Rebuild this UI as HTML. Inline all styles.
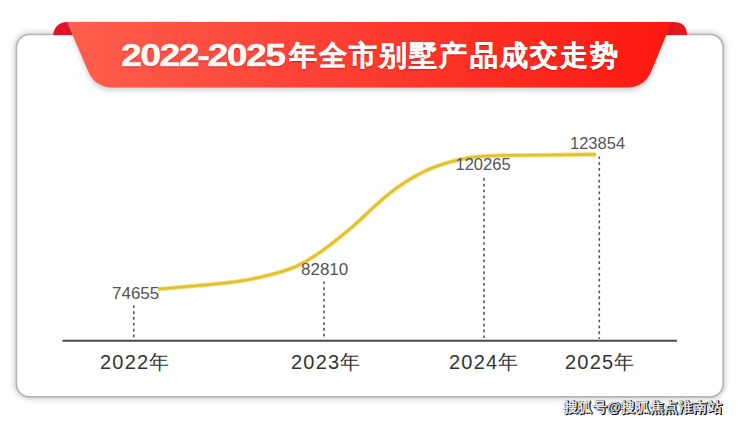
<!DOCTYPE html>
<html><head><meta charset="utf-8">
<style>
html,body{margin:0;padding:0;background:#fff;width:740px;height:423px;overflow:hidden;font-family:"Liberation Sans",sans-serif;}
#wrap{position:relative;width:740px;height:423px;}
svg{position:absolute;left:0;top:0;}
.t{position:absolute;white-space:nowrap;}
.tt{color:#fff8f6;font-weight:bold;text-shadow:0 0.5px 1.5px rgba(140,0,0,.55);}
#td{left:121px;top:37px;font-size:32px;line-height:36px;letter-spacing:-1.3px;-webkit-text-stroke:0.5px #fff;transform:scaleX(1.167);transform-origin:0 0;}
#tc{left:289px;top:38.7px;font-size:28px;line-height:34px;letter-spacing:2.1px;-webkit-text-stroke:0.4px #fff;}
.v{font-size:17px;line-height:18px;color:#555;}
.x{font-size:20px;line-height:22px;color:#333;letter-spacing:1.2px;}
#wm{right:18px;top:398px;font-size:14px;letter-spacing:0.4px;line-height:18px;font-weight:bold;color:#e8e8e8;text-shadow:1px 1px 0 #000,1px 0 0.5px #000,0 0 1px rgba(0,0,0,.8);}
</style></head><body><div id="wrap">
<svg width="740" height="423" viewBox="0 0 740 423">
<defs>
<linearGradient id="g" x1="0" y1="0" x2="1" y2="0">
<stop offset="0" stop-color="#ff5e4e"/>
<stop offset="1" stop-color="#fc1810"/>
</linearGradient>
<filter id="sh" x="-5%" y="-5%" width="110%" height="110%"><feGaussianBlur stdDeviation="2"/></filter>
<filter id="bsh" x="-5%" y="-30%" width="110%" height="180%"><feGaussianBlur stdDeviation="2.6"/></filter>
</defs>
<!-- card shadow -->
<rect x="16.4" y="34.5" width="706.8" height="362.4" rx="13" fill="none" stroke="#000" stroke-opacity="0.14" stroke-width="6" filter="url(#sh)"/>
<rect x="16.4" y="34.5" width="706.8" height="362.4" rx="13" fill="#fff" stroke="#b4b4b4" stroke-width="1.7"/>
<!-- folds -->
<path d="M53,35 Q55,22 68,22 L73,35 Z" fill="#e2132a"/>
<path d="M671,22 L673,22 Q687,22 687,35 L666,35 Z" fill="#e4161f"/>
<!-- banner shadow -->
<path d="M67,24 L672,24 L652,74 Q645.5,91 627,91 L112.6,91 Q94.6,91 87.6,74 Z" fill="#203040" opacity="0.2" filter="url(#bsh)"/>
<!-- banner -->
<path d="M67,22 L671.7,22 L651.6,70.6 Q644.8,87.6 627,87.6 L112.6,87.6 Q94.8,87.6 87.8,70.6 Z" fill="url(#g)"/>
<!-- axis -->
<line x1="62.5" y1="340.7" x2="677" y2="340.7" stroke="#484848" stroke-width="2"/>
<!-- dotted -->
<g stroke="#555" stroke-width="1.6" stroke-dasharray="2.7 3.13">
<line x1="133.8" y1="305.4" x2="133.8" y2="339"/>
<line x1="324" y1="281.4" x2="324" y2="339"/>
<line x1="484" y1="178" x2="484" y2="339"/>
<line x1="599.3" y1="156.4" x2="599.3" y2="339"/>
</g>
<!-- curve -->
<path id="cv" d="M158,288.98 L160,288.88 L162,288.75 L164,288.61 L166,288.46 L168,288.29 L170,288.12 L172,287.94 L174,287.76 L176,287.58 L178,287.40 L180,287.22 L182,287.04 L184,286.86 L186,286.68 L188,286.50 L190,286.31 L192,286.13 L194,285.94 L196,285.75 L198,285.56 L200,285.37 L202,285.20 L204,285.03 L206,284.85 L208,284.68 L210,284.50 L212,284.32 L214,284.14 L216,283.94 L218,283.74 L220,283.54 L222,283.32 L224,283.09 L226,282.86 L228,282.62 L230,282.37 L232,282.12 L234,281.86 L236,281.60 L238,281.34 L240,281.06 L242,280.75 L244,280.42 L246,280.08 L248,279.71 L250,279.33 L252,278.93 L254,278.51 L256,278.08 L258,277.65 L260,277.20 L262,276.75 L264,276.29 L266,275.83 L268,275.35 L270,274.86 L272,274.36 L274,273.83 L276,273.28 L278,272.72 L280,272.13 L282,271.53 L284,270.90 L286,270.25 L288,269.57 L290,268.85 L292,268.09 L294,267.28 L296,266.42 L298,265.50 L300,264.52 L302,263.50 L304,262.43 L306,261.31 L308,260.15 L310,258.95 L312,257.71 L314,256.43 L316,255.11 L318,253.76 L320,252.38 L322,250.94 L324,249.48 L326,248.00 L328,246.49 L330,244.96 L332,243.42 L334,241.86 L336,240.29 L338,238.70 L340,237.10 L342,235.48 L344,233.84 L346,232.19 L348,230.53 L350,228.84 L352,227.13 L354,225.38 L356,223.61 L358,221.81 L360,219.98 L362,218.12 L364,216.25 L366,214.37 L368,212.49 L370,210.61 L372,208.75 L374,206.90 L376,205.08 L378,203.28 L380,201.50 L382,199.75 L384,198.03 L386,196.35 L388,194.70 L390,193.10 L392,191.55 L394,190.03 L396,188.56 L398,187.13 L400,185.72 L402,184.36 L404,183.03 L406,181.73 L408,180.47 L410,179.24 L412,178.04 L414,176.88 L416,175.76 L418,174.66 L420,173.61 L422,172.60 L424,171.62 L426,170.69 L428,169.80 L430,168.94 L432,168.11 L434,167.32 L436,166.55 L438,165.82 L440,165.11 L442,164.43 L444,163.79 L446,163.17 L448,162.57 L450,162.01 L452,161.47 L454,160.97 L456,160.51 L458,160.07 L460,159.67 L462,159.20 L464,158.77 L466,158.36 L468,157.98 L470,157.64 L472,157.33 L474,157.04 L476,156.82 L478,156.66 L480,156.51 L482,156.38 L484,156.26 L486,156.14 L488,156.04 L490,155.93 L492,155.83 L494,155.73 L496,155.64 L498,155.55 L500,155.47 L502,155.43 L504,155.40 L506,155.38 L508,155.35 L510,155.33 L512,155.32 L514,155.30 L516,155.29 L518,155.27 L520,155.26 L522,155.24 L524,155.23 L526,155.22 L528,155.20 L530,155.19 L532,155.17 L534,155.15 L536,155.14 L538,155.12 L540,155.10 L542,155.08 L544,155.06 L546,155.04 L548,155.01 L550,154.99 L552,154.96 L554,154.94 L556,154.91 L558,154.89 L560,154.86 L562,154.84 L564,154.81 L566,154.78 L568,154.76 L570,154.73 L572,154.71 L574,154.68 L576,154.66 L578,154.63 L580,154.61 L582,154.58 L584,154.55 L586,154.53 L588,154.51 L590,154.48 L592,154.46 L594,154.45 L596,154.43" fill="none" stroke="#f5e07a" stroke-width="4.4" stroke-linecap="butt"/>
<path id="cv2" d="M158,288.98 L160,288.88 L162,288.75 L164,288.61 L166,288.46 L168,288.29 L170,288.12 L172,287.94 L174,287.76 L176,287.58 L178,287.40 L180,287.22 L182,287.04 L184,286.86 L186,286.68 L188,286.50 L190,286.31 L192,286.13 L194,285.94 L196,285.75 L198,285.56 L200,285.37 L202,285.20 L204,285.03 L206,284.85 L208,284.68 L210,284.50 L212,284.32 L214,284.14 L216,283.94 L218,283.74 L220,283.54 L222,283.32 L224,283.09 L226,282.86 L228,282.62 L230,282.37 L232,282.12 L234,281.86 L236,281.60 L238,281.34 L240,281.06 L242,280.75 L244,280.42 L246,280.08 L248,279.71 L250,279.33 L252,278.93 L254,278.51 L256,278.08 L258,277.65 L260,277.20 L262,276.75 L264,276.29 L266,275.83 L268,275.35 L270,274.86 L272,274.36 L274,273.83 L276,273.28 L278,272.72 L280,272.13 L282,271.53 L284,270.90 L286,270.25 L288,269.57 L290,268.85 L292,268.09 L294,267.28 L296,266.42 L298,265.50 L300,264.52 L302,263.50 L304,262.43 L306,261.31 L308,260.15 L310,258.95 L312,257.71 L314,256.43 L316,255.11 L318,253.76 L320,252.38 L322,250.94 L324,249.48 L326,248.00 L328,246.49 L330,244.96 L332,243.42 L334,241.86 L336,240.29 L338,238.70 L340,237.10 L342,235.48 L344,233.84 L346,232.19 L348,230.53 L350,228.84 L352,227.13 L354,225.38 L356,223.61 L358,221.81 L360,219.98 L362,218.12 L364,216.25 L366,214.37 L368,212.49 L370,210.61 L372,208.75 L374,206.90 L376,205.08 L378,203.28 L380,201.50 L382,199.75 L384,198.03 L386,196.35 L388,194.70 L390,193.10 L392,191.55 L394,190.03 L396,188.56 L398,187.13 L400,185.72 L402,184.36 L404,183.03 L406,181.73 L408,180.47 L410,179.24 L412,178.04 L414,176.88 L416,175.76 L418,174.66 L420,173.61 L422,172.60 L424,171.62 L426,170.69 L428,169.80 L430,168.94 L432,168.11 L434,167.32 L436,166.55 L438,165.82 L440,165.11 L442,164.43 L444,163.79 L446,163.17 L448,162.57 L450,162.01 L452,161.47 L454,160.97 L456,160.51 L458,160.07 L460,159.67 L462,159.20 L464,158.77 L466,158.36 L468,157.98 L470,157.64 L472,157.33 L474,157.04 L476,156.82 L478,156.66 L480,156.51 L482,156.38 L484,156.26 L486,156.14 L488,156.04 L490,155.93 L492,155.83 L494,155.73 L496,155.64 L498,155.55 L500,155.47 L502,155.43 L504,155.40 L506,155.38 L508,155.35 L510,155.33 L512,155.32 L514,155.30 L516,155.29 L518,155.27 L520,155.26 L522,155.24 L524,155.23 L526,155.22 L528,155.20 L530,155.19 L532,155.17 L534,155.15 L536,155.14 L538,155.12 L540,155.10 L542,155.08 L544,155.06 L546,155.04 L548,155.01 L550,154.99 L552,154.96 L554,154.94 L556,154.91 L558,154.89 L560,154.86 L562,154.84 L564,154.81 L566,154.78 L568,154.76 L570,154.73 L572,154.71 L574,154.68 L576,154.66 L578,154.63 L580,154.61 L582,154.58 L584,154.55 L586,154.53 L588,154.51 L590,154.48 L592,154.46 L594,154.45 L596,154.43" fill="none" stroke="#e2c030" stroke-width="2.6" stroke-linecap="butt"/>
</svg>
<div class="t tt" id="td">2022<span style="margin-left:-0.6px;margin-right:-0.6px">-</span>2025</div><div class="t tt" id="tc">年全市别墅产品成交走势</div>
<div class="t v" style="left:112px;top:285px;">74655</div>
<div class="t v" style="left:301px;top:261px;">82810</div>
<div class="t v" style="left:455.5px;top:155px;font-size:16.5px;">120265</div>
<div class="t v" style="left:570px;top:134px;font-size:16.5px;">123854</div>
<div class="t x" style="left:100px;top:351px;">2022年</div>
<div class="t x" style="left:291px;top:351px;">2023年</div>
<div class="t x" style="left:449px;top:351px;">2024年</div>
<div class="t x" style="left:565px;top:351px;">2025年</div>
<div class="t" id="wm">搜狐号@搜狐焦点淮南站</div>
</div></body></html>
